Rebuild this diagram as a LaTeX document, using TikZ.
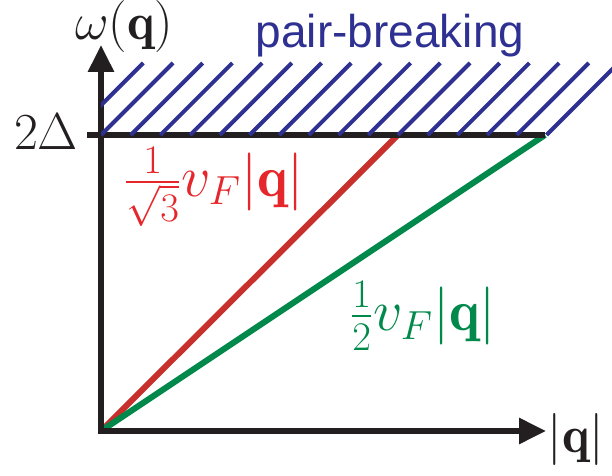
\RequirePackage{fix-cm}
\documentclass[tikz,border=0pt]{standalone}
\usepackage{amsmath}
\usepackage{fontspec}
\newfontfamily\breakfont{Liberation Sans}
\usepackage{xcolor}
\usepackage{tikz}
\usetikzlibrary{arrows.meta}
\definecolor{axisblack}{HTML}{231F20}
\definecolor{pairblue}{HTML}{2E3192}
\definecolor{slowred}{HTML}{C8302C}
\definecolor{slowtext}{HTML}{E5262A}
\definecolor{fastgreen}{HTML}{00894A}

\begin{document}
\begin{tikzpicture}[
    x=0.5pt, y=-0.5pt,
    font=\fontsize{26}{30}\selectfont,
    axis/.style={draw=axisblack, line width=3pt, line cap=rect,
        -{Triangle[length=13.5pt, width=12.5pt]}},
    gap/.style={draw=axisblack, line width=3pt},
    hatch/.style={draw=pairblue, line width=2pt},
    mode/.style={draw=#1, line width=3pt},
    lbl/.style={inner sep=0pt, text=#1},
    branch/.style={inner sep=0pt, text=#1, font=\fontsize{29}{34}\selectfont},
  ]
  \useasboundingbox (0,0) rectangle (612,476);
  \coordinate (origin) at (101,431);
  \coordinate (ytip) at (101,45);
  \coordinate (xtip) at (546,431);
  \coordinate (gapleft) at (87,135);
  \coordinate (gapright) at (545,135);
  \coordinate (redend) at (398,135);
  % dispersion branches
  \draw[mode=slowred] (origin) -- (redend);
  \draw[mode=fastgreen] (origin) -- (gapright);
  % axes and gap edge
  \draw[axis] (origin) -- (ytip);
  \draw[axis] (origin) -- (xtip);
  \draw[gap] (gapleft) -- (gapright);
  % continuum
  \begin{scope}
    \clip (101,40) rectangle (612,140);
    \foreach \k in {-1,...,15}
      \draw[hatch] ({101+29.7*\k},135) -- ++(72,-72);
  \end{scope}
  \node[lbl=axisblack] (omegalabel) at (124,27) {$\omega(\mathbf{q})$};
  \node[lbl=axisblack] (qlabel) at (576,440) {$|\mathbf{q}|$};
  \node[lbl=axisblack, anchor=base] (gaplabel) at (46,150) {$2\Delta$};
  \node[lbl=pairblue, anchor=base, font=\breakfont\fontsize{23}{28}\selectfont] (pairlabel) at (390,48) {pair-breaking};
  \node[branch=slowtext] (redlabel) at (214,187) {$\frac{1}{\sqrt{3}}v_F|\mathbf{q}|$};
  \node[branch=fastgreen] (greenlabel) at (423,316) {$\frac{1}{2}v_F|\mathbf{q}|$};
\end{tikzpicture}
\end{document}
